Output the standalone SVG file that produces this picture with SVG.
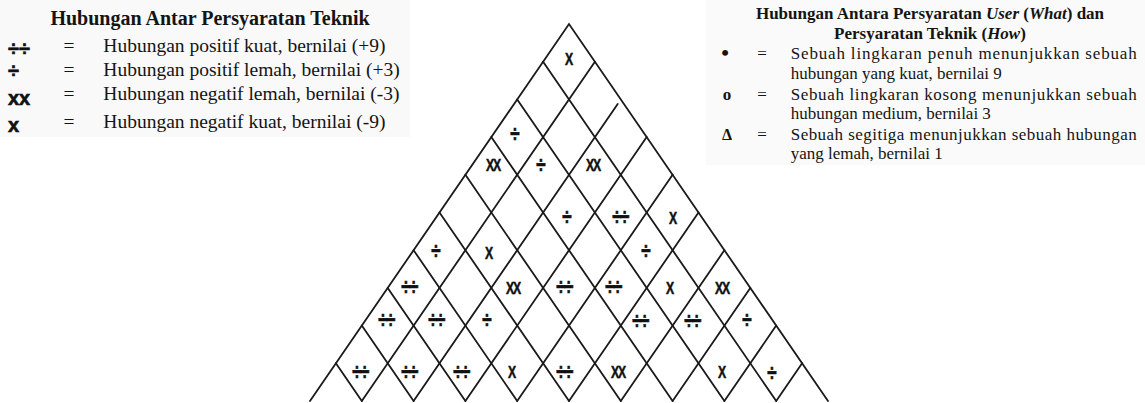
<svg xmlns="http://www.w3.org/2000/svg" width="1145" height="403" viewBox="0 0 1145 403">
<style>
.ln{stroke:#1a1a1a;stroke-width:1.8;fill:none;stroke-linecap:round}
.tx{font-family:"Liberation Serif","Times New Roman",serif;fill:#141414}
.sy{font-family:"Liberation Sans",Arial,sans-serif;font-weight:bold;fill:#111;stroke:#111;stroke-width:0.6}
.c{font-family:"Liberation Sans",Arial,sans-serif;font-weight:bold;fill:#111;stroke:#111;stroke-width:0.5;font-size:17px;text-anchor:middle;dominant-baseline:central}
.dd{letter-spacing:-1.5px}
</style>
<rect width="1145" height="403" fill="#ffffff"/>
<rect x="0" y="0" width="410" height="137" fill="#f9f9f9"/>
<rect x="706" y="0" width="439" height="165" fill="#fafafa"/>

<g id="legend-teknik">
<text class="tx" x="210" y="25" text-anchor="middle" font-weight="bold" font-size="20">Hubungan Antar Persyaratan Teknik</text>
<text class="sy" x="8" y="56" font-size="20">÷÷</text>
<text class="tx" x="69" y="52" text-anchor="middle" font-size="19.5">=</text>
<text class="tx" x="103.3" y="52" font-size="19.5">Hubungan positif kuat, bernilai (+9)</text>
<text class="sy" x="8" y="78" font-size="20">÷</text>
<text class="tx" x="69" y="76" text-anchor="middle" font-size="19.5">=</text>
<text class="tx" x="103.3" y="76" font-size="19.5">Hubungan positif lemah, bernilai (+3)</text>
<text class="sy" x="8" y="105" font-size="20">xx</text>
<text class="tx" x="69" y="99.5" text-anchor="middle" font-size="19.5">=</text>
<text class="tx" x="103.3" y="99.5" font-size="19.5">Hubungan negatif lemah, bernilai (-3)</text>
<text class="sy" x="8" y="131.5" font-size="20">x</text>
<text class="tx" x="69" y="128" text-anchor="middle" font-size="19.5">=</text>
<text class="tx" x="103.3" y="128" font-size="19.5">Hubungan negatif kuat, bernilai (-9)</text>
</g>

<g id="legend-user">
<text class="tx" x="930" y="18.5" text-anchor="middle" font-weight="bold" font-size="17">Hubungan Antara Persyaratan <tspan font-style="italic">User</tspan> (<tspan font-style="italic">What</tspan>) dan</text>
<text class="tx" x="930" y="39" text-anchor="middle" font-weight="bold" font-size="17">Persyaratan Teknik (<tspan font-style="italic">How</tspan>)</text>
<text class="tx" x="725" y="60" text-anchor="middle" font-size="22" font-weight="bold">•</text>
<text class="tx" x="762" y="59" text-anchor="middle" font-size="17">=</text>
<text class="tx" x="790.7" y="59" font-size="17" textLength="346" lengthAdjust="spacing">Sebuah lingkaran penuh menunjukkan sebuah</text>
<text class="tx" x="790.7" y="79.3" font-size="17">hubungan yang kuat, bernilai 9</text>
<text class="tx" x="727" y="99.5" text-anchor="middle" font-size="17" font-weight="bold">o</text>
<text class="tx" x="762" y="99.5" text-anchor="middle" font-size="17">=</text>
<text class="tx" x="790.7" y="99.5" font-size="17" textLength="346" lengthAdjust="spacing">Sebuah lingkaran kosong menunjukkan sebuah</text>
<text class="tx" x="790.7" y="119.3" font-size="17">hubungan medium, bernilai 3</text>
<text class="tx" x="727" y="140" text-anchor="middle" font-size="16" font-weight="bold">Δ</text>
<text class="tx" x="762" y="140" text-anchor="middle" font-size="17">=</text>
<text class="tx" x="790.7" y="140" font-size="17" textLength="346" lengthAdjust="spacing">Sebuah segitiga menunjukkan sebuah hubungan</text>
<text class="tx" x="790.7" y="158.5" font-size="17">yang lemah, bernilai 1</text>
</g>

<g id="roof-outline">
<path class="ln" d="M310,401 L569,24 L828,401"/>
</g>

<g id="connectors">
<path class="ln" d="M543.1,61.7 L776.2,401 M517.2,99.4 L724.4,401 M491.3,137.1 L672.6,401 M465.4,174.8 L620.8,401 M439.5,212.5 L569,401 M413.6,250.2 L517.2,401 M387.7,287.9 L465.4,401 M361.8,325.6 L413.6,401 M335.9,363.3 L361.8,401"/>
<path class="ln" d="M594.9,61.7 L361.8,401 M617.7,103.9 L413.6,401 M646.7,137.1 L465.4,401 M672.6,174.8 L517.2,401 M698.5,212.5 L569,401 M724.4,250.2 L620.8,401 M750.3,287.9 L672.6,401 M776.2,325.6 L724.4,401 M802.1,363.3 L776.2,401"/>
</g>

<g id="cells">
<g id="cell-1-10"><text class="c" transform="translate(569,59) scale(0.72,1)">X</text></g>
<g id="cell-1-8"><text class="c" transform="translate(515,133) scale(1,1.4)">÷</text></g>
<g id="cell-1-7"><text class="c dd" transform="translate(493,165) scale(0.72,1)">XX</text></g>
<g id="cell-2-8"><text class="c" transform="translate(541,164) scale(1,1.4)">÷</text></g>
<g id="cell-3-9"><text class="c dd" transform="translate(593,165) scale(0.72,1)">XX</text></g>
<g id="cell-3-8"><text class="c" transform="translate(567,216) scale(1,1.4)">÷</text></g>
<g id="cell-4-9"><text class="c dd" transform="translate(620,216) scale(1,1.4)">÷÷</text></g>
<g id="cell-5-10"><text class="c" transform="translate(673,218) scale(0.72,1)">X</text></g>
<g id="cell-1-5"><text class="c" transform="translate(436,250) scale(1,1.4)">÷</text></g>
<g id="cell-2-6"><text class="c" transform="translate(489,253) scale(0.72,1)">X</text></g>
<g id="cell-5-9"><text class="c" transform="translate(646,250) scale(1,1.4)">÷</text></g>
<g id="cell-1-4"><text class="c dd" transform="translate(409,286) scale(1,1.4)">÷÷</text></g>
<g id="cell-3-6"><text class="c dd" transform="translate(513,288) scale(0.72,1)">XX</text></g>
<g id="cell-4-7"><text class="c dd" transform="translate(564,286) scale(1,1.4)">÷÷</text></g>
<g id="cell-5-8"><text class="c dd" transform="translate(613,286) scale(1,1.4)">÷÷</text></g>
<g id="cell-6-9"><text class="c" transform="translate(670,288) scale(0.72,1)">X</text></g>
<g id="cell-7-10"><text class="c dd" transform="translate(722,288) scale(0.72,1)">XX</text></g>
<g id="cell-1-3"><text class="c dd" transform="translate(386,319) scale(1,1.4)">÷÷</text></g>
<g id="cell-2-4"><text class="c dd" transform="translate(436,319) scale(1,1.4)">÷÷</text></g>
<g id="cell-3-5"><text class="c" transform="translate(487,319) scale(1,1.4)">÷</text></g>
<g id="cell-6-8"><text class="c dd" transform="translate(640,320) scale(1,1.4)">÷÷</text></g>
<g id="cell-7-9"><text class="c dd" transform="translate(692,320) scale(1,1.4)">÷÷</text></g>
<g id="cell-8-10"><text class="c" transform="translate(747,319) scale(1,1.4)">÷</text></g>
<g id="cell-1-2"><text class="c dd" transform="translate(360,371) scale(1,1.4)">÷÷</text></g>
<g id="cell-2-3"><text class="c dd" transform="translate(409,371) scale(1,1.4)">÷÷</text></g>
<g id="cell-3-4"><text class="c dd" transform="translate(461,371) scale(1,1.4)">÷÷</text></g>
<g id="cell-4-5"><text class="c" transform="translate(512,372) scale(0.72,1)">X</text></g>
<g id="cell-5-6"><text class="c dd" transform="translate(564,371) scale(1,1.4)">÷÷</text></g>
<g id="cell-6-7"><text class="c dd" transform="translate(618,372) scale(0.72,1)">XX</text></g>
<g id="cell-8-9"><text class="c" transform="translate(722,372) scale(0.72,1)">X</text></g>
<g id="cell-9-10"><text class="c" transform="translate(772,372) scale(1,1.4)">÷</text></g>
</g>
</svg>
